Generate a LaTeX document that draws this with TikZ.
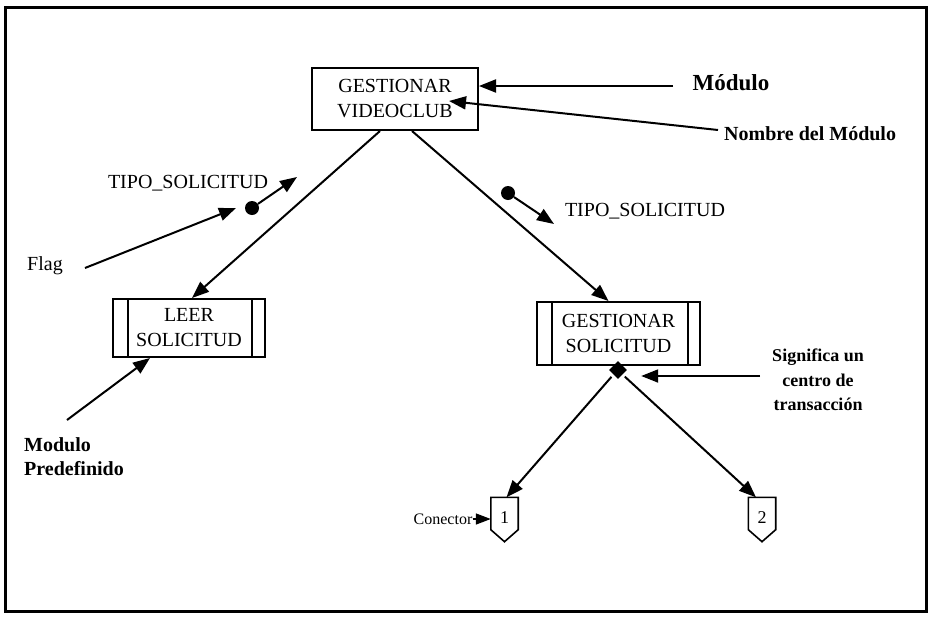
\documentclass[tikz,border=0pt]{standalone}
\usepackage{fontspec}
\setmainfont{Liberation Serif}
\usetikzlibrary{arrows.meta,shapes.geometric,calc}

\tikzset{
  line/.style={line width=2pt},
  arr/.style={line, -{Triangle[length=17pt,width=13pt]}},
  module/.style={draw, line width=2pt, align=center, inner sep=0pt,
    font=\fontsize{20}{25}\selectfont},
  lbl/.style={inner sep=0pt, font=\fontsize{20}{24}\selectfont},
  boldlbl/.style={inner sep=0pt, font=\bfseries\fontsize{20}{24}\selectfont},
  ball/.style={circle, fill, inner sep=0pt, minimum size=14pt},
  txcenter/.style={diamond, fill, inner sep=0pt, minimum size=18pt},
  offpage/.style={inner sep=0pt, minimum width=27pt, minimum height=44pt,
    font=\fontsize{18}{20}\selectfont},
  bar/.style={line width=1.5pt}
}
% outline of an off-page connector around node #1
\newcommand\offpageoutline[1]{%
  \draw[line width=1.6pt, line join=miter]
    (#1.north west) -- (#1.north east) -- ($(#1.south east)+(0,-12)$)
    -- (#1.south) -- ($(#1.south west)+(0,-12)$) -- cycle;}

\begin{document}
\begin{tikzpicture}[x=1pt,y=-1pt]
  \useasboundingbox (0,0) rectangle (931,616);
  \draw[line width=3pt] (5,7) rectangle (926,611);

  % modules
  \node[module, minimum width=166pt, minimum height=62pt] (tb) at (395,99)
    {GESTIONAR\\VIDEOCLUB};
  \node[module, minimum width=152pt, minimum height=58pt] (lb) at (189,328)
    {LEER\\SOLICITUD};
  \node[module, minimum width=163pt, minimum height=63pt] (rb) at (618.5,333.5)
    {GESTIONAR\\SOLICITUD};

  % predefined-module side bars
  \draw[bar] ([xshift=16pt]lb.north west) -- ([xshift=16pt]lb.south west);
  \draw[bar] ([xshift=-14pt]lb.north east) -- ([xshift=-14pt]lb.south east);
  \draw[bar] ([xshift=16pt]rb.north west) -- ([xshift=16pt]rb.south west);
  \draw[bar] ([xshift=-13pt]rb.north east) -- ([xshift=-13pt]rb.south east);

  % calls
  \draw[arr] ([xshift=-15pt]tb.south) -- ([xshift=3pt]lb.north);
  \draw[arr] ([xshift=17pt]tb.south) -- ([xshift=-10pt]rb.north);

  % transaction centre
  \node[txcenter] (d) at (618,370) {};

  % off-page connectors
  \node[offpage] (c1) at (504.5,519.5) {\raisebox{3pt}{1}};
  \node[offpage] (c2) at (762,519.5) {\raisebox{3pt}{2}};
  \offpageoutline{c1}
  \offpageoutline{c2}
  \draw[arr, shorten <=3pt] (d.south west) -- ([xshift=2pt]c1.north);
  \draw[arr, shorten <=3pt] (d.south east) -- ([xshift=-6pt]c2.north);

  % flags
  \node[ball] (f1) at (252,208) {};
  \coordinate (f1e) at (297,177);
  \draw[arr] (f1) -- (f1e);
  \node[lbl] (t1) at (188,183) {TIPO\_SOLICITUD};

  \node[ball] (f2) at (508,193) {};
  \coordinate (f2e) at (554,224);
  \draw[arr] (f2) -- (f2e);
  \node[lbl] (t2) at (645,211) {TIPO\_SOLICITUD};

  % annotations
  \node[inner sep=0pt, font=\bfseries\fontsize{23}{26}\selectfont] (mod) at (731,83) {Módulo};
  \coordinate (mods) at (673,86);
  \draw[arr] (mods) -- (tb.east |- mods);

  \node[boldlbl, anchor=west] (nom) at (724,134) {Nombre del Módulo};
  \coordinate (noms) at (718,130);
  \coordinate (nome) at (449,101);
  \draw[arr] (noms) -- (nome);

  \node[lbl] (flag) at (45,266) {Flag};
  \coordinate (flags) at (85,268);
  \coordinate (flage) at (236,208);
  \draw[arr] (flags) -- (flage);

  \node[boldlbl, anchor=north west, align=left] (pre) at (24,437) {Modulo\\Predefinido};
  \coordinate (pres) at (67,420);
  \draw[arr] (pres) -- ([xshift=-39pt]lb.south);

  \node[inner sep=0pt, align=center, font=\bfseries\fontsize{18}{24.5}\selectfont]
    (sig) at (818,380) {Significa un\\centro de\\transacción};
  \coordinate (sigs) at (760,376);
  \draw[arr] (sigs) -- ([xshift=14pt]d.east |- sigs);

  \node[inner sep=0pt, font=\fontsize{16}{18}\selectfont] (con) at (443,519) {Conector};
  \draw[line width=1.5pt, -{Triangle[length=15pt,width=11pt]}] (con.east) -- (c1.west |- con.east);
\end{tikzpicture}
\end{document}
